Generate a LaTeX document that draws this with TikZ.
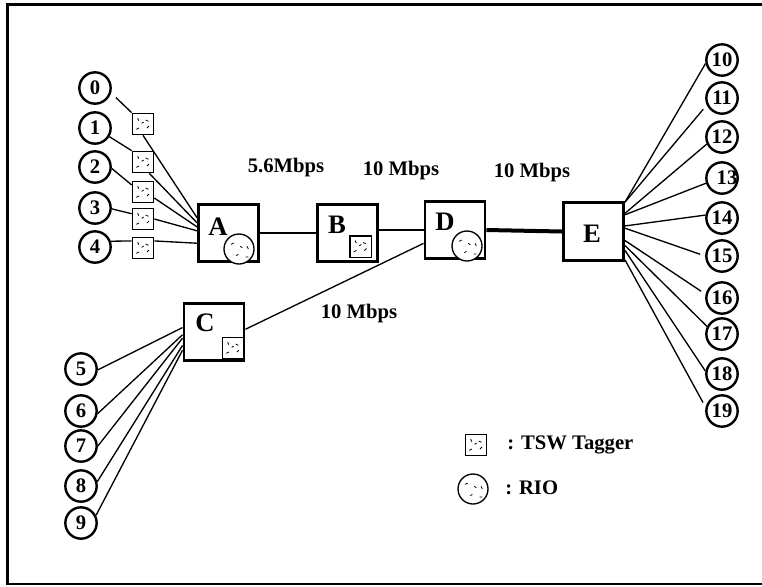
\documentclass[tikz,border=0pt]{standalone}
\usepackage{fontspec}
\setmainfont{Liberation Serif}
\usetikzlibrary{positioning}
\tikzset{
  frame/.style={draw, line width=1.7pt},
  host/.style={draw, circle, line width=1.8pt, minimum size=23.5pt, inner sep=0pt, font=\bfseries\fontsize{15.5}{15.5}\selectfont},
  router/.style={draw, rectangle, line width=2.2pt, minimum width=45pt, minimum height=43pt, inner sep=0pt},
  letter/.style={font=\bfseries\fontsize{20}{20}\selectfont, inner sep=0pt},
  tagger/.style={draw, rectangle, line width=1pt, minimum size=16pt, inner sep=0pt, fill=white,
    path picture={\draw[line width=0.6pt, rotate around={#1:(path picture bounding box.center)}]
      (path picture bounding box.center) ++(-4pt,4.5pt) -- ++(0.8pt,-2pt)
      (path picture bounding box.center) ++(2pt,3pt) -- ++(2pt,-1pt)
      (path picture bounding box.center) ++(-1pt,0.5pt) -- ++(1.5pt,1pt)
      (path picture bounding box.center) ++(-5pt,-4pt) -- ++(2pt,1pt)
      (path picture bounding box.center) ++(3pt,-3pt) -- ++(1.5pt,1.5pt);}},
  rio/.style={draw, circle, line width=1pt, minimum size=22.5pt, inner sep=0pt, fill=white,
    path picture={\draw[line width=0.6pt, rotate around={#1:(path picture bounding box.center)}]
      (path picture bounding box.center) ++(-6pt,3.5pt) -- ++(2pt,1pt)
      (path picture bounding box.center) ++(1pt,2pt) -- ++(1.5pt,-1pt)
      (path picture bounding box.center) ++(6pt,2pt) -- ++(1pt,-2pt)
      (path picture bounding box.center) ++(-2pt,-5pt) -- ++(1.5pt,1pt)
      (path picture bounding box.center) ++(5pt,-6pt) -- ++(2pt,0pt);}},
  link/.style={draw, line width=1pt},
  rate/.style={font=\bfseries\fontsize{15.5}{15.5}\selectfont, inner sep=0pt}
}
\begin{document}
\begin{tikzpicture}[x=0.75pt, y=-0.75pt]
\useasboundingbox (0,0) rectangle (762,586);
\draw[frame] (762,4.5) -- (7.5,4.5) -- (7.5,584) -- (762,584);

% routers
\node[router] (A) at (228.5,233) {};
\node[router] (B) at (347.5,233) {};
\node[router] (C) at (214,332) {};
\node[router] (D) at (455,230) {};
\node[router] (E) at (593.5,231.5) {};

\node[letter] (la) at (218,227) {A};
\node[letter] (lb) at (337,225) {B};
\node[letter] (lc) at (205,323) {C};
\node[letter] (ld) at (445,222) {D};
\node[letter] (le) at (592,234) {E};

\node[rio=0] (ra) at (239,249) {};
\node[rio=40] (rd) at (467,246) {};
\node[tagger=200] (tb) at (360.5,246.5) {};
\node[tagger=90] (tc) at (233,348) {};

% hosts on the left
\node[host] (h0) at (95,88) {0};
\node[host] (h1) at (95,128) {1};
\node[host] (h2) at (95,167) {2};
\node[host] (h3) at (95,208) {3};
\node[host] (h4) at (95,247) {4};
\node[host] (h5) at (81,369) {5};
\node[host] (h6) at (81,411) {6};
\node[host] (h7) at (81,446) {7};
\node[host] (h8) at (81,486) {8};
\node[host] (h9) at (81,523) {9};

\node[tagger=90] (t0) at (143,124) {};
\node[tagger=30] (t1) at (143,162) {};
\node[tagger=150] (t2) at (143,192) {};
\node[tagger=250] (t3) at (143,219) {};
\node[tagger=320] (t4) at (143,248) {};

% hosts on the right
\node[host] (h10) at (722,60) {10};
\node[host] (h11) at (722,98) {11};
\node[host] (h12) at (722,137) {12};
\node[host] (h13) at (722,178) {};
\node[letter, font=\bfseries\fontsize{15.5}{15.5}\selectfont] (l13) at (727,178) {13};
\node[host] (h14) at (722,218) {14};
\node[host] (h15) at (722,256) {15};
\node[host] (h16) at (722,298) {16};
\node[host] (h17) at (722,334) {17};
\node[host] (h18) at (722,374) {18};
\node[host] (h19) at (722,411) {19};

% links
\draw[link, shorten <=5pt] (h0.-17) -- (t0.north west);
\draw[link] (t0.south) -- (A.154);
\draw[link] (h1.-31) -- (t1.north west);
\draw[link] (h2.-5) -- (t2.148);
\draw[link] (h3.-3) -- (t3.155);
\draw[link] (h4.20) -- (t4.148);
\draw[link] (t1.-61) -- (A.162);
\draw[link] (t2.-28) -- (A.169);
\draw[link] (t3.east) -- (A.176);
\draw[link] (t4.32) -- (A.198);
\draw[link] (A) -- (B);
\draw[link] (D.west -| B.east) -- (D.west);
\draw[link] (C.5) -- (D.203);
\draw[line width=3pt] (D.east) -- (E.west);
\foreach \i/\a/\b in {5/172/357,6/185/351,7/191/0,8/203/15,9/210/27}{
  \draw[link] (h\i.\b) -- (C.\a);
}
\foreach \i/\a/\b/\s in {10/43/192/0,11/43/205/4,12/30/205/0,13/28/198/0,14/10/170/0,15/6/180/4,16/-16/167/4,17/-24/153/0,18/-31/170/0,19/-42/167/4}{
  \draw[link, shorten <=\s pt] (h\i.\b) -- (E.\a);
}

% rates
\node[rate] (r1) at (286,168) {5.6Mbps};
\node[rate] (r2) at (401,171) {10 Mbps};
\node[rate] (r3) at (532,173) {10 Mbps};
\node[rate] (r4) at (359,314) {10 Mbps};

% legend
\node[tagger=0] (ltag) at (476,445) {};
\node[rate, anchor=west] (ltxt) at (507,445) {: TSW Tagger};
\node[rio=120] (lrio) at (473,489) {};
\node[rate, anchor=west] (lrtxt) at (505,488) {: RIO};
\end{tikzpicture}
\end{document}
